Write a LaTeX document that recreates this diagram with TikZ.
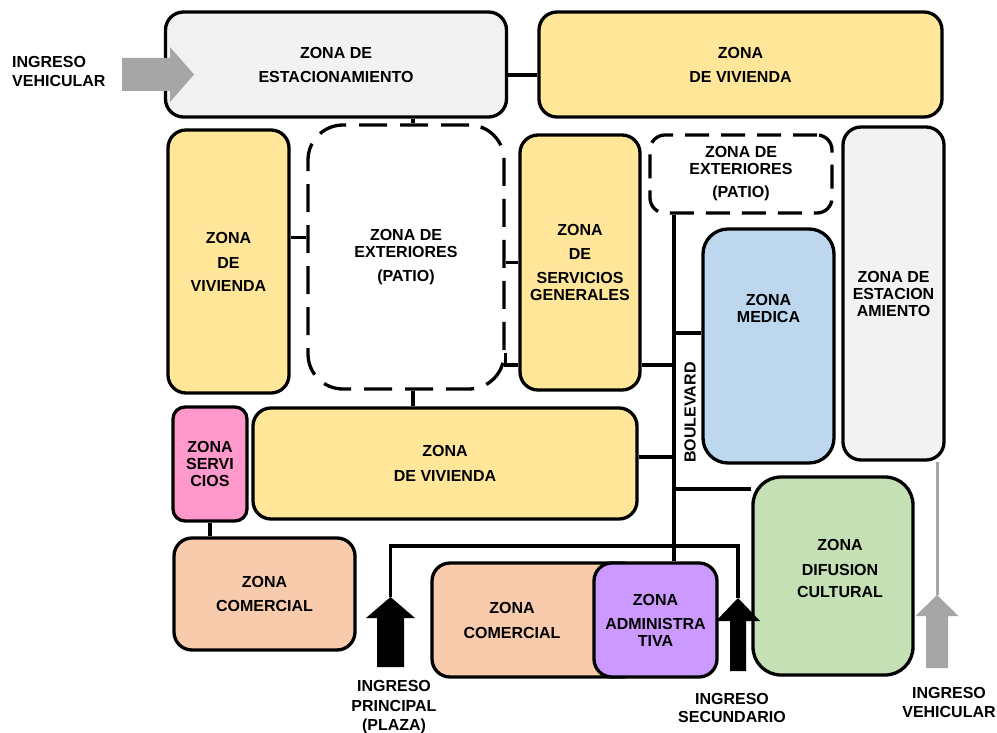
\documentclass[tikz,border=0pt]{standalone}
\usepackage{fontspec}
\setmainfont{Liberation Sans}
\usetikzlibrary{calc,backgrounds}
\definecolor{cgray}{HTML}{F2F2F2}
\definecolor{cyellow}{HTML}{FFE699}
\definecolor{cblue}{HTML}{BDD7EE}
\definecolor{cpink}{HTML}{FF99CC}
\definecolor{cpeach}{HTML}{F8CBAD}
\definecolor{cpurple}{HTML}{CC99FF}
\definecolor{cgreen}{HTML}{C5E0B4}
\definecolor{carrow}{HTML}{A6A6A6}
\newcommand{\zfont}{\fontsize{16}{17}\selectfont\bfseries}
\begin{document}
\begin{tikzpicture}[x=1pt,y=-1pt,
  zone/.style={draw=black, line width=3.3pt, rounded corners=18pt, inner sep=0pt, align=center, font=\zfont},
  patio/.style={zone, fill=white, dash pattern=on 28pt off 13pt},
  ztext/.style={inner sep=0pt, align=center, font=\zfont},
  lbl/.style={inner sep=0pt, font=\zfont},
  conn/.style={draw=black, line width=3.3pt},
  gconn/.style={draw=carrow, line width=3pt},
  blackarrow/.style={fill=black},
  grayarrow/.style={fill=carrow}
]
\useasboundingbox (0,0) rectangle (997,733);

% zones
\node[zone, fill=cgray, minimum width=341pt, minimum height=105pt] (est1) at (336,64.5) {ZONA DE\\[7pt]ESTACIONAMIENTO};
\node[zone, fill=cyellow, minimum width=403pt, minimum height=105pt] (viv1) at (740.5,64.5) {ZONA\\[7pt]DE VIVIENDA};
\node[zone, fill=cyellow, minimum width=121pt, minimum height=263pt] (viv2) at (228.5,261.5) {ZONA\\[8pt]DE\\[6pt]VIVIENDA};
\node[patio, rounded corners=35pt, minimum width=196pt, minimum height=264pt] (patio1) at (406,257) {ZONA DE\\EXTERIORES\\[7pt](PATIO)};
\node[zone, fill=cyellow, minimum width=120pt, minimum height=255pt] (serv) at (580,262.5) {ZONA\\[7pt]DE\\[7pt]SERVICIOS\\GENERALES};
\node[patio, rounded corners=15pt, dash pattern=on 24pt off 12pt, minimum width=182pt, minimum height=78pt] (patio2) at (741,174) {ZONA DE\\EXTERIORES\\[6pt](PATIO)};
\node[zone, fill=cblue, rounded corners=25pt, minimum width=131pt, minimum height=234pt,
  label={[ztext, yshift=38pt]center:ZONA\\MEDICA}] (medica) at (768.5,346) {};
\node[zone, fill=cgray, minimum width=101pt, minimum height=333pt] (est2) at (893.5,293.5) {ZONA DE\\ESTACION\\AMIENTO};
\node[zone, fill=cpink, rounded corners=12pt, minimum width=74pt, minimum height=114pt] (pink) at (210,464) {ZONA\\SERVI\\CIOS};
\node[zone, fill=cyellow, minimum width=384pt, minimum height=111pt] (viv3) at (445,463.5) {ZONA\\[8pt]DE VIVIENDA};
\node[zone, fill=cpeach, minimum width=181pt, minimum height=112pt] (com1) at (264.5,594) {ZONA\\[7pt]COMERCIAL};
\node[zone, fill=cpeach, minimum width=208pt, minimum height=114pt,
  label={[ztext, xshift=-24pt]center:ZONA\\[8pt]COMERCIAL}] (com2) at (536,620) {};
\node[zone, fill=cpurple, minimum width=123pt, minimum height=114pt] (admin) at (655.5,620) {ZONA\\[7pt]ADMINISTRA\\TIVA};
\node[zone, fill=cgreen, rounded corners=28pt, minimum width=160pt, minimum height=198pt,
  label={[ztext, xshift=7pt, yshift=8pt]center:ZONA\\[8pt]DIFUSION\\[5pt]CULTURAL}] (difu) at (833,576) {};

% labels
\node[lbl, rotate=90] (blv) at (690,412.5) {BOULEVARD};
\node[lbl, anchor=west, align=left] (ingL) at (12,71.5) {INGRESO\\[2pt]VEHICULAR};
\node[lbl, align=center] (ingP) at (394,707.5) {INGRESO\\[3pt]PRINCIPAL\\[2pt](PLAZA)};
\node[lbl, align=center] (ingS) at (732,708) {INGRESO\\[1pt]SECUNDARIO};
\node[lbl, align=center] (ingV) at (949,702) {INGRESO\\[2pt]VEHICULAR};

% arrow tips
\coordinate (tipL) at (194,74.5);
\coordinate (tipP) at (390.5,597);
\coordinate (tipS) at (738,598);
\coordinate (tipV) at (937,595);
\coordinate (bv) at ([xshift=-67pt]patio2.south);

% connectors
\begin{scope}[on background layer]
\draw[conn] ([yshift=-10.5pt]est1.east) -- ([yshift=-10.5pt]est1.east -| viv1.west);
\draw[conn] ([xshift=7pt]patio1.north) -- ([xshift=7pt]patio1.north |- est1.south);
\draw[conn] ([yshift=24pt]viv2.east) -- ([yshift=24pt]viv2.east -| patio1.west);
\draw[conn] (serv.west) -- (serv.west -| patio1.east);
\draw[conn] ([yshift=-102.5pt]serv.east) -- ([yshift=-102.5pt]serv.east -| bv);
\draw[conn] (bv) -- (bv |- admin.north);
\draw[conn] ([yshift=13pt]medica.west) -- ([yshift=13pt]medica.west -| bv);
\draw[conn] ([yshift=6.5pt]viv3.east) -- ([yshift=6.5pt]viv3.east -| bv);
\draw[conn] ([yshift=87pt]difu.west) -- ([yshift=87pt]difu.west -| bv);
\draw[conn] (pink.south) -- (pink.south |- com1.north);
\draw[conn] ([xshift=7pt]patio1.south) -- ([xshift=7pt]patio1.south |- viv3.north);
\draw[conn] (tipP) |- ([yshift=52pt]tipS) -- (tipS);
\draw[gconn] (tipV) -- (tipV |- est2.south);
\end{scope}
\draw[conn] ([yshift=-96pt]patio1.east) |- ([yshift=-102.5pt]serv.west);

% block arrows
\fill[grayarrow] (tipL) -- ++(-24,27.5) -- ++(0,-11) -- ++(-48,0) -- ++(0,-33) -- ++(48,0) -- ++(0,-11) -- cycle;
\fill[blackarrow] (tipP) -- ++(24.5,21) -- ++(-11,0) -- ++(0,49) -- ++(-27,0) -- ++(0,-49) -- ++(-11,0) -- cycle;
\fill[blackarrow] (tipS) -- ++(22,23) -- ++(-14,0) -- ++(0,50) -- ++(-16,0) -- ++(0,-50) -- ++(-14,0) -- cycle;
\fill[grayarrow] (tipV) -- ++(21.5,21) -- ++(-10.5,0) -- ++(0,52) -- ++(-22,0) -- ++(0,-52) -- ++(-10.5,0) -- cycle;
\end{tikzpicture}
\end{document}
